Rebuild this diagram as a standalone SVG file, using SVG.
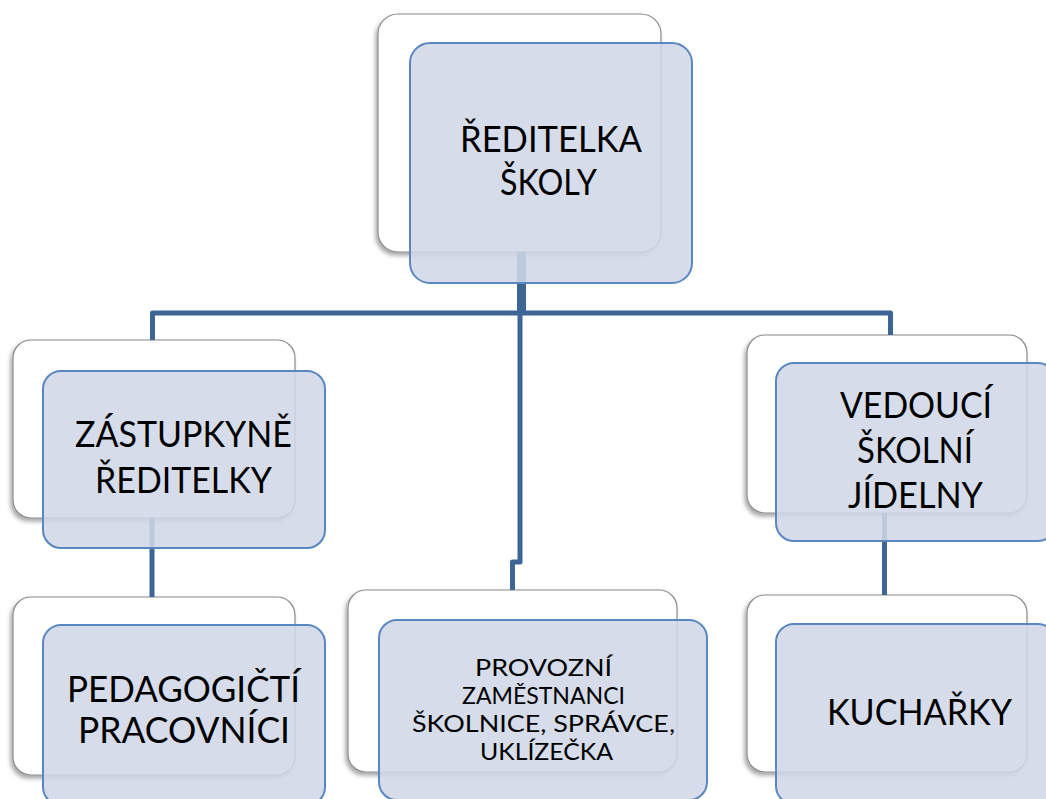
<svg xmlns="http://www.w3.org/2000/svg" width="1046" height="799" viewBox="0 0 1046 799">
<defs>
<filter id="sh" x="-10%" y="-10%" width="120%" height="125%">
<feDropShadow dx="-2" dy="3" stdDeviation="2" flood-color="#000" flood-opacity="0.35"/>
</filter>
<style>
.back{fill:#fff;stroke:#8a8a8a;stroke-width:1.2;filter:url(#sh)}
.front{fill:rgb(208,215,230);fill-opacity:0.875;stroke:#5a87c0;stroke-width:2}
.conn{fill:none;stroke:#3d6697;stroke-width:5;stroke-linejoin:round}
.t{font-family:Lato,"Open Sans","Noto Sans",sans-serif;font-size:37px;fill:#000;text-anchor:middle}
.s{font-size:24px}
</style>
</defs>
<rect width="1046" height="799" fill="#fff"/>
<g id="backs">
<rect class="back" x="378" y="14" width="283" height="238" rx="20"/>
<rect class="back" x="13" y="340" width="282" height="178" rx="18"/>
<rect class="back" x="747" y="335" width="280" height="178" rx="18"/>
<rect class="back" x="13" y="597" width="282" height="178" rx="18"/>
<rect class="back" x="348" y="590" width="329" height="182" rx="18"/>
<rect class="back" x="747" y="595" width="280" height="177" rx="18"/>
</g>
<g id="connectors">
<path class="conn" d="M521.5 252 V313" style="stroke-width:9"/>
<path class="conn" d="M152.5 340 V313 H890.5 V335"/>
<path class="conn" d="M520 313 V562 H512.5 V590"/>
<path class="conn" d="M152 518 V597"/>
<path class="conn" d="M884.5 513 V595"/>
</g>
<g id="n-reditelka">
<rect class="front" x="410" y="43" width="282" height="240" rx="20"/>
<text class="t" x="551" y="152" textLength="182" lengthAdjust="spacingAndGlyphs">ŘEDITELKA</text>
<text class="t" x="548.5" y="195" textLength="97" lengthAdjust="spacingAndGlyphs">ŠKOLY</text>
</g>
<g id="n-zastupkyne">
<rect class="front" x="43" y="371" width="282" height="177" rx="18"/>
<text class="t" x="183.5" y="447" textLength="217" lengthAdjust="spacingAndGlyphs">ZÁSTUPKYNĚ</text>
<text class="t" x="183.5" y="493" textLength="177" lengthAdjust="spacingAndGlyphs">ŘEDITELKY</text>
</g>
<g id="n-vedouci">
<rect class="front" x="776" y="363" width="280" height="178" rx="18"/>
<text class="t" x="916" y="418" textLength="152" lengthAdjust="spacingAndGlyphs">VEDOUCÍ</text>
<text class="t" x="915" y="463" textLength="116" lengthAdjust="spacingAndGlyphs">ŠKOLNÍ</text>
<text class="t" x="915.5" y="508" textLength="135" lengthAdjust="spacingAndGlyphs">JÍDELNY</text>
</g>
<g id="n-pedagogicti">
<rect class="front" x="43" y="625" width="282" height="180" rx="18"/>
<text class="t" x="183.5" y="702" textLength="233" lengthAdjust="spacingAndGlyphs">PEDAGOGIČTÍ</text>
<text class="t" x="184" y="743" textLength="212" lengthAdjust="spacingAndGlyphs">PRACOVNÍCI</text>
</g>
<g id="n-provozni">
<rect class="front" x="379" y="620" width="328" height="180" rx="18"/>
<text class="t s" x="543.5" y="676" textLength="137" lengthAdjust="spacingAndGlyphs">PROVOZNÍ</text>
<text class="t s" x="543.5" y="704" textLength="163" lengthAdjust="spacingAndGlyphs">ZAMĚSTNANCI</text>
<text class="t s" x="543.5" y="732" textLength="263" lengthAdjust="spacingAndGlyphs">ŠKOLNICE, SPRÁVCE,</text>
<text class="t s" x="546.5" y="760" textLength="133" lengthAdjust="spacingAndGlyphs">UKLÍZEČKA</text>
</g>
<g id="n-kucharky">
<rect class="front" x="776" y="624" width="280" height="180" rx="18"/>
<text class="t" x="919.5" y="725" textLength="185" lengthAdjust="spacingAndGlyphs">KUCHAŘKY</text>
</g>
</svg>
